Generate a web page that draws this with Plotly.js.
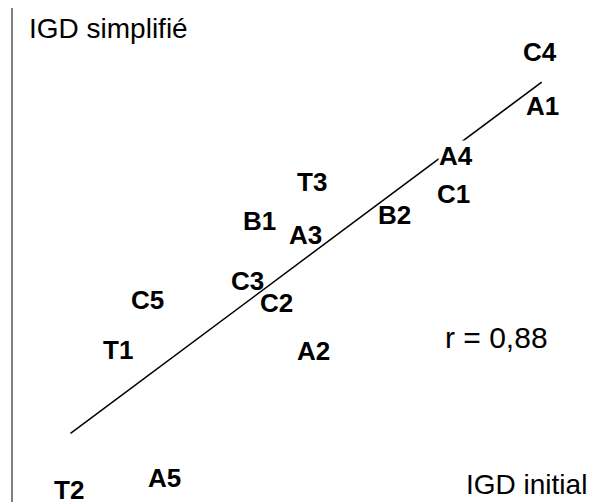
<!DOCTYPE html>
<html>
<head>
<meta charset="utf-8">
<script src="https://cdn.plot.ly/plotly-3.0.1.min.js"></script>
<style>html,body{margin:0;padding:0;background:#fff;}#chart{width:594px;height:502px;}</style>
</head>
<body>
<div id="chart"></div>
<script>
// Sample labels and their scores (initial IGD vs simplified IGD), arbitrary units 0-100
const labels     = ['C4', 'A1', 'A4', 'C1', 'B2', 'T3', 'B1', 'A3', 'C3', 'C2', 'C5', 'T1', 'A2', 'A5', 'T2'];
const igdInitial = [90.7, 91.2, 76.2, 75.9, 65.7, 51.5, 42.5, 50.4, 40.3, 45.3, 23.1, 18.1, 51.8, 26.0, 9.6];
const igdSimple  = [91.1, 80.2, 70.0, 62.3, 58.1, 64.8, 56.9, 54.0, 44.7, 40.3, 40.9, 30.8, 30.6, 4.9, 2.5];
// Regression line end points
const fitX = [9.9, 91.0];
const fitY = [13.9, 85.0];
const rText = 'r = 0,88';
const xTitle = 'IGD initial';
const yTitle = 'IGD simplifié';
const maskedLabels = ['A4']; // labels drawn on a white box that hides the line

const FONT = 'Liberation Sans, Arial, Helvetica, sans-serif';

const traces = [{
  type: 'scatter', mode: 'lines', x: fitX, y: fitY,
  line: {color: '#000', width: 1.5}, hoverinfo: 'skip', showlegend: false
}];

const annotations = labels.map((lab, i) => ({
  x: igdInitial[i], y: igdSimple[i], xref: 'x', yref: 'y',
  text: '<b>' + lab + '</b>', showarrow: false,
  xanchor: 'center', yanchor: 'middle',
  font: {family: FONT, size: 26, color: '#000'},
  bgcolor: maskedLabels.includes(lab) ? '#ffffff' : 'rgba(0,0,0,0)',
  borderpad: 0
}));

annotations.push(
  {xref: 'paper', yref: 'paper', x: 0.024, y: 0.9575, xanchor: 'left', yanchor: 'middle',
   text: yTitle, showarrow: false, font: {family: FONT, size: 28, color: '#000'}},
  {xref: 'paper', yref: 'paper', x: 0.991, y: 0.036, xanchor: 'right', yanchor: 'middle',
   text: xTitle, showarrow: false, font: {family: FONT, size: 28, color: '#000'}},
  {xref: 'paper', yref: 'paper', x: 0.740, y: 0.334, xanchor: 'left', yanchor: 'middle',
   text: rText, showarrow: false, font: {family: FONT, size: 30, color: '#000'}}
);

const layout = {
  width: 594, height: 502,
  margin: {l: 13, r: 0, t: 8, b: 0},
  paper_bgcolor: '#fff', plot_bgcolor: '#fff',
  showlegend: false,
  xaxis: {range: [0, 100], showgrid: false, zeroline: false, showline: false,
          showticklabels: false, ticks: '', fixedrange: true},
  yaxis: {range: [0, 100], showgrid: false, zeroline: false, showline: true,
          linecolor: '#808080', linewidth: 2, showticklabels: false, ticks: '', fixedrange: true},
  annotations: annotations
};

Plotly.newPlot('chart', traces, layout, {displayModeBar: false, staticPlot: true});
</script>
</body>
</html>
